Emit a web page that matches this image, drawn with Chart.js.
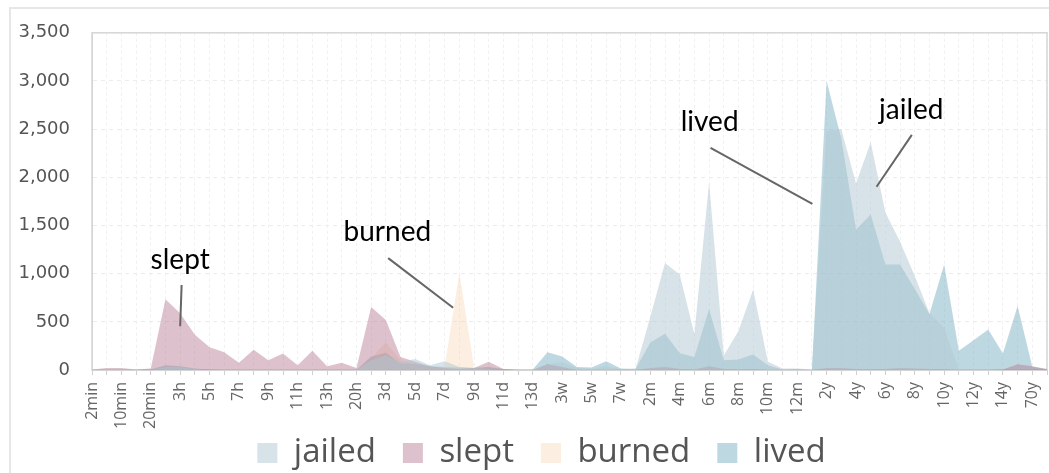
<!DOCTYPE html>
<html>
<head>
<meta charset="utf-8">
<script src="https://cdn.jsdelivr.net/npm/chart.js@4.4.1/dist/chart.umd.min.js"></script>
<style>
html, body { margin: 0; padding: 0; background: #fff; overflow: hidden; }
#wrap { position: relative; width: 1049px; height: 473px; }
#frame { position: absolute; left: 9px; top: 7px; width: 1100px; height: 520px; border: 2px solid #e6e6e6; }
canvas { position: absolute; left: 0; top: 0; }
</style>
</head>
<body>
<div id="wrap"><div id="frame"></div><canvas id="myChart" width="1049" height="473"></canvas></div>
<script>
var categories = ["2min","5min","10min","15min","20min","2h","3h","4h","5h","6h","7h","8h","9h","10h","11h","12h","13h","15h","20h",
  "2d","3d","4d","5d","6d","7d","8d","9d","10d","11d","12d","13d","2w","3w","4w","5w","6w","7w","1m",
  "2m","3m","4m","5m","6m","7m","8m","9m","10m","11m","12m","1y","2y","3y","4y","5y","6y","7y","8y","9y","10y","11y","12y","13y","14y","15y","70y","80y"];

var jailed = [0,0,0,0,0,30,30,10,0,0,0,0,0,0,0,0,0,0,0,
  100,150,80,115,50,90,30,20,10,0,0,0,60,80,20,10,40,5,15,
  550,1110,990,370,1950,150,405,835,85,15,15,5,2480,2500,1935,2365,1635,1330,975,590,437,0,0,0,0,0,0,0];

var slept = [5,20,20,5,15,735,590,365,235,185,75,210,100,170,50,200,40,75,20,
  655,520,135,85,40,20,10,20,85,10,0,0,60,30,0,0,0,0,0,
  20,30,10,5,40,10,5,10,0,0,0,0,20,20,10,10,10,20,15,10,10,0,0,0,5,60,40,10];

var burned = [0,0,0,0,0,0,0,0,0,0,0,0,0,0,0,0,0,0,0,
  120,290,100,60,30,30,1010,30,10,0,0,0,0,0,0,0,0,0,0,
  0,0,0,0,0,0,0,0,0,0,0,0,0,0,0,0,0,0,0,0,0,0,0,0,0,0,0,0];

var lived = [0,0,0,0,5,50,40,15,5,0,0,0,0,0,0,0,0,0,0,
  140,180,67,65,40,30,25,20,30,10,5,5,185,140,30,25,90,15,10,
  285,375,175,135,630,100,110,160,50,5,10,0,3000,2400,1457,1615,1095,1095,840,580,1095,200,310,420,170,665,35,8];

var yTicks = [0, 500, 1000, 1500, 2000, 2500, 3000, 3500];

// callouts: text centre and pointer line, in (category index, value)
var notes = [
  { text: "slept",  at: [6.0, 1141],   from: [6.1, 882],   to: [6.0, 455] },
  { text: "burned", at: [20.1, 1431],  from: [20.16, 1161], to: [24.58, 646] },
  { text: "lived",  at: [42.04, 2575], from: [42.1, 2306],  to: [49.03, 1724] },
  { text: "jailed", at: [55.76, 2694], from: [55.8, 2441],  to: [53.4, 1902] }
];

var framePlugin = {
  id: "frame",
  afterLayout: function(chart) {
    // let the rotated x labels run below the axis box without being clipped
    var x = chart.scales.x;
    x.bottom = x.top + 70;
    // legend sits a little right of centre in the original
    chart.legend.left = 36;
  },
  beforeDatasetsDraw: function(chart) {
    var a = chart.chartArea, c = chart.ctx;
    c.save();
    c.strokeStyle = "#d6d6d6";
    c.lineWidth = 1.5;
    c.strokeRect(a.left, a.top, a.right - a.left, a.bottom - a.top);
    c.restore();
  }
};

var notesPlugin = {
  id: "notes",
  afterDatasetsDraw: function(chart) {
    var x = chart.scales.x, y = chart.scales.y, c = chart.ctx;
    c.save();
    notes.forEach(function(n) {
      c.strokeStyle = "#666";
      c.lineWidth = 2;
      c.beginPath();
      c.moveTo(x.getPixelForValue(n.from[0]), y.getPixelForValue(n.from[1]));
      c.lineTo(x.getPixelForValue(n.to[0]), y.getPixelForValue(n.to[1]));
      c.stroke();
      c.fillStyle = "#000";
      c.font = "28px Lato";
      c.textAlign = "center";
      c.textBaseline = "middle";
      c.fillText(n.text, x.getPixelForValue(n.at[0]), y.getPixelForValue(n.at[1]));
    });
    c.restore();
  }
};

function area(label, data, color) {
  return {
    label: label,
    data: data,
    backgroundColor: color,
    borderColor: color,
    borderWidth: 0,
    fill: "origin",
    pointRadius: 0,
    tension: 0
  };
}

var ctx = document.getElementById("myChart");
var myChart = new Chart(ctx, {
  type: "line",
  data: {
    labels: categories,
    datasets: [
      area("jailed", jailed, "rgba(175,199,210,0.5)"),
      area("slept", slept, "rgba(180,120,145,0.45)"),
      area("burned", burned, "rgba(245,205,165,0.35)"),
      area("lived", lived, "rgba(110,168,188,0.45)")
    ]
  },
  options: {
    responsive: false,
    animation: false,
    layout: { padding: { top: 24, right: 2, bottom: -6.5, left: 0 } },
    plugins: {
      tooltip: { enabled: false },
      legend: {
        position: "bottom",
        labels: {
          boxWidth: 20,
          boxHeight: 20,
          padding: 27,
          color: "#555",
          font: { family: "Open Sans", size: 33 }
        }
      }
    },
    scales: {
      x: {
        offset: false,
        grid: { color: "#f0f0f0", tickColor: "#d0d0d0", tickLength: 5, tickBorderDash: [] },
        border: { display: true, color: "#cfcfcf", dash: [3, 3] },
        ticks: {
          autoSkip: false,
          maxRotation: 90,
          minRotation: 90,
          padding: 7,
          color: "#666",
          font: { family: "Open Sans", size: 16 },
          callback: function(v, i) { return i % 2 === 0 ? categories[i] : ""; }
        },
        afterFit: function(s) { s.height = 39.5; s.paddingLeft = 0; s.paddingRight = 0; }
      },
      y: {
        min: 0,
        max: 3500,
        grid: { color: "#ececec", drawTicks: false },
        border: { display: true, color: "#cfcfcf", dash: [4, 4] },
        afterBuildTicks: function(s) { s.ticks = yTicks.map(function(v) { return { value: v }; }); },
        ticks: {
          padding: 22,
          color: "#555",
          font: { family: "DejaVu Sans", size: 18 },
          callback: function(v) { return v.toLocaleString("en-US"); }
        },
        afterFit: function(s) { s.width = 92; }
      }
    }
  },
  plugins: [framePlugin, notesPlugin]
});
</script>
</body>
</html>
